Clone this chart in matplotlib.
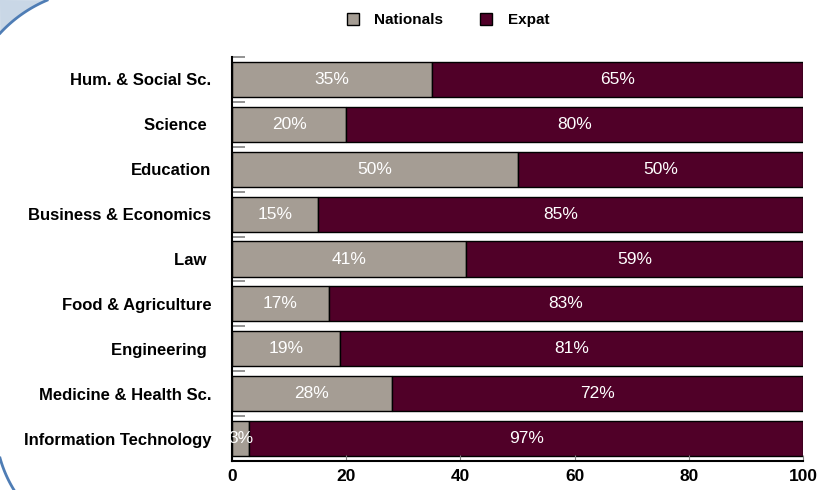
import numpy as np
import matplotlib
matplotlib.use('Agg')
import matplotlib.pyplot as plt
from matplotlib.patches import Polygon, Patch

plt.rcParams['font.family'] = ['Liberation Sans', 'DejaVu Sans']

# data (top to bottom)
categories = ['Hum. & Social Sc.', 'Science ', 'Education', 'Business & Economics', 'Law ',
              'Food & Agriculture', 'Engineering ', 'Medicine & Health Sc.', 'Information Technology']
nationals = [35, 20, 50, 15, 41, 17, 19, 28, 3]
expat = [65, 80, 50, 85, 59, 83, 81, 72, 97]
xticks = [0, 20, 40, 60, 80, 100]

col_nat = '#a59d94'
col_exp = '#500028'

W, H = 821, 490
fig = plt.figure(figsize=(W / 100, H / 100), dpi=100)

# decorative frame corner arcs (figure pixel coords, y down)
def px(x, y):
    return (x / W, 1 - y / H)

t = np.linspace(0, 1, 60)
cx, cy, r = 100, 125.5, 136.0
a0 = np.arctan2(0 - cy, 47 - cx)
a1 = np.arctan2(33 - cy, 0 - cx)
ang = a0 + (a1 - a0) * t
arc_top = [px(cx + r * np.cos(a), cy + r * np.sin(a)) for a in ang]
fig.patches.append(Polygon([px(0, 0)] + arc_top, closed=True, transform=fig.transFigure,
                           facecolor='#c9d7e6', edgecolor='none', zorder=0))
fig.lines.append(plt.Line2D([p[0] for p in arc_top], [p[1] for p in arc_top],
                            transform=fig.transFigure, color='#4f7db5', lw=2))
bx, by = 120, 424.6
rb = np.hypot(bx, by - 458)
b0 = np.arctan2(458 - by, 0 - bx)
b1 = np.arctan2(490 - by, 14 - bx)
angb = b0 + (b1 - b0) * t
arc_bot = [px(bx + rb * np.cos(a), by + rb * np.sin(a)) for a in angb]
fig.lines.append(plt.Line2D([p[0] for p in arc_bot], [p[1] for p in arc_bot],
                            transform=fig.transFigure, color='#4f7db5', lw=2))

ax = fig.add_axes([232 / W, 29 / H, 571 / W, 404 / H])
y = np.arange(len(categories))
b1c = ax.barh(y, nationals, height=0.78, color=col_nat, edgecolor='black', linewidth=1)
b2c = ax.barh(y, expat, left=nationals, height=0.78, color=col_exp, edgecolor='black', linewidth=1)
ax.bar_label(b1c, labels=[f'{v}%' for v in nationals], label_type='center', color='white', fontsize=12.5)
ax.bar_label(b2c, labels=[f'{v}%' for v in expat], label_type='center', color='white', fontsize=12.5)

ax.set_xlim(0, 100)
ax.set_ylim(len(categories) - 0.5, -0.5)
ax.set_xticks(xticks)
ax.set_xticklabels([str(v) for v in xticks], fontweight='bold', fontsize=12.5)
ax.tick_params(axis='x', direction='in', length=4, color='#808080', pad=6)
ax.set_yticks(y)
ax.set_yticklabels(categories, fontweight='bold', fontsize=12)
ax.tick_params(axis='y', which='major', length=0, pad=15)
ax.set_yticks(np.arange(len(categories)) - 0.5, minor=True)
ax.tick_params(axis='y', which='minor', direction='in', length=9.5, color='#808080', width=1.2)
for s in ['top', 'right']:
    ax.spines[s].set_visible(False)
for s in ['left', 'bottom']:
    ax.spines[s].set_linewidth(1.5)

handles = [Patch(facecolor=col_nat, edgecolor='black', label='Nationals'),
           Patch(facecolor=col_exp, edgecolor='black', label='Expat')]
leg = fig.legend(handles=handles, loc='center', bbox_to_anchor=(448 / W, 1 - 20 / H), ncol=2,
                 frameon=False, handlelength=0.8, handleheight=0.8, handletextpad=1.0,
                 columnspacing=2.4, prop={'weight': 'bold', 'size': 11})

fig.savefig('out.png', dpi=100)
